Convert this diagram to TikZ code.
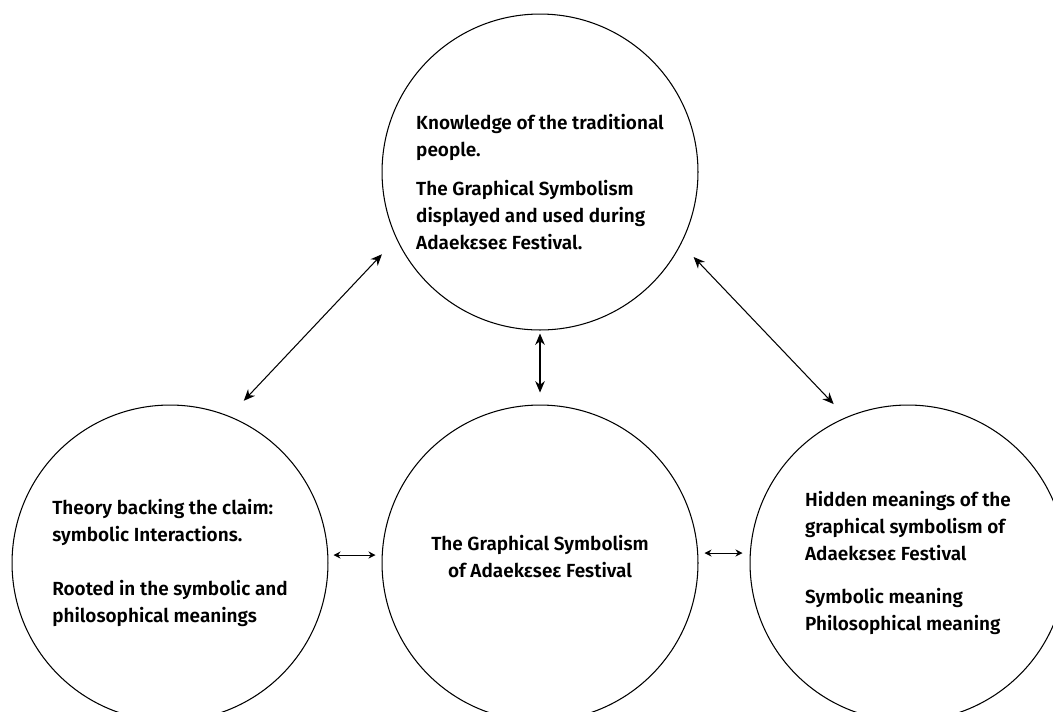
\documentclass[tikz,border=0pt]{standalone}
\usepackage{fontspec}
\setmainfont{Fira Sans}[UprightFont=* SemiBold]
\usepackage{tikz}
\usetikzlibrary{
  arrows.meta,
  positioning,
}
\tikzset{
  ideanode/.style={
    circle, draw=black, line width=0.6pt, minimum size=6.32cm,
    inner sep=0pt, font=\fontsize{10.8}{15.4}\selectfont
  },
  linkarrow/.style={{Stealth[length=6.5pt,width=5.5pt]}-{Stealth[length=6.5pt,width=5.5pt]}, line width=0.6pt},
  shortarrow/.style={{Stealth[length=4pt,width=4pt]}-{Stealth[length=4pt,width=4pt]}, line width=0.5pt},
}
\begin{document}
\begin{tikzpicture}[x=0.02cm, y=-0.02cm]

  \clip (0,0) rectangle (1053,711);

  % ── Circles ──
  \node[ideanode, align=left] (know) at (540,172) {%
    \rule{0pt}{20pt}Knowledge of the traditional\\
    people.\\[7pt]
    The Graphical Symbolism\\
    displayed and used during\\
    Adaek\char"025Bse\char"025B{} Festival.};

  \node[ideanode, align=left] (theory) at (170,563) {%
    Theory backing the claim:\\
    symbolic Interactions.\\[15pt]
    Rooted in the symbolic and\\
    philosophical meanings};

  \node[ideanode, align=center] (symb) at (540,563) {%
    The Graphical Symbolism\\
    of Adaek\char"025Bse\char"025B{} Festival\rule[-8pt]{0pt}{1pt}};

  \node[ideanode, align=left] (hidden) at (908,563) {%
    Hidden meanings of the\\
    graphical symbolism of\\
    Adaek\char"025Bse\char"025B{} Festival\\[9pt]
    Symbolic meaning\\
    Philosophical meaning};

  % ── Links ──
  \draw[linkarrow, shorten <=0.42cm, shorten >=0.42cm] (know.205) -- (theory.68);
  \draw[linkarrow, shorten <=0.36cm, shorten >=0.36cm] (know.-27) -- (hidden.113);
  \draw[linkarrow, shorten <=0.06cm, shorten >=0.24cm] (know.south) -- (symb.north);
  \draw[shortarrow, shorten <=0.1cm, shorten >=0.12cm] ([yshift=0.16cm]theory.east) -- ([yshift=0.16cm]symb.west);
  \draw[shortarrow, shorten <=0.12cm, shorten >=0.14cm] ([yshift=0.2cm]symb.east) -- ([yshift=0.2cm]hidden.west);

\end{tikzpicture}
\end{document}
